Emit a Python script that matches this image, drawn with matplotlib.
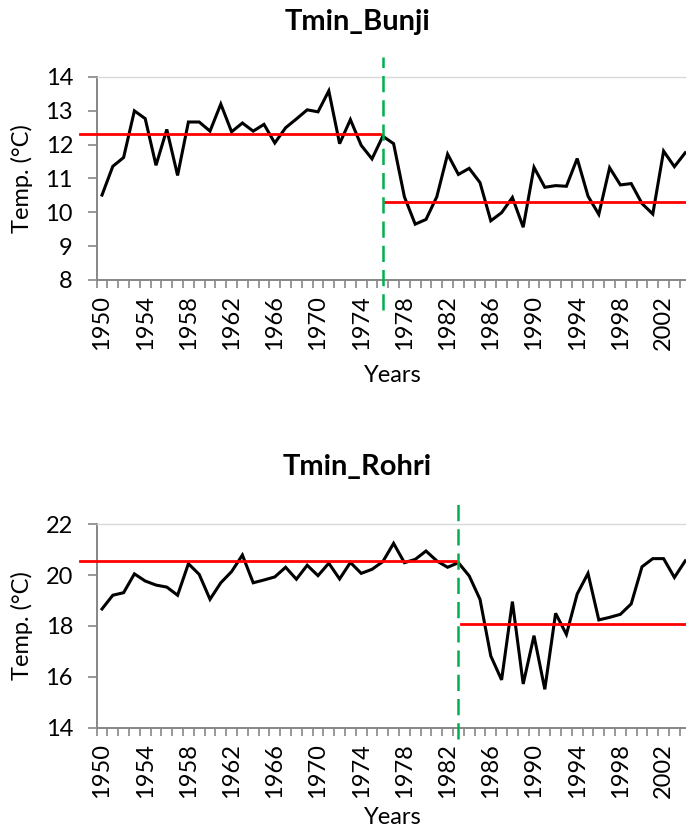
import matplotlib
matplotlib.use("Agg")
import matplotlib.pyplot as plt
import numpy as np

plt.rcParams['font.family'] = ['Lato', 'DejaVu Sans']

years = list(range(1950, 2005))

bunji = [10.51, 11.36, 11.62, 13.00, 12.77, 11.39, 12.45, 11.09, 12.67, 12.67,
         12.40, 13.20, 12.38, 12.64, 12.40, 12.60, 12.05, 12.50, 12.76, 13.03,
         12.97, 13.59, 12.03, 12.74, 11.98, 11.58, 12.25, 12.03, 10.46, 9.65,
         9.79, 10.46, 11.72, 11.12, 11.30, 10.88, 9.75, 9.99, 10.44, 9.56,
         11.33, 10.74, 10.79, 10.77, 11.59, 10.48, 9.94, 11.32, 10.81, 10.85,
         10.26, 9.95, 11.81, 11.35, 11.76]

rohri = [18.67, 19.21, 19.31, 20.05, 19.77, 19.61, 19.53, 19.21, 20.45, 20.03,
         19.05, 19.70, 20.14, 20.79, 19.70, 19.81, 19.93, 20.31, 19.84, 20.39,
         19.98, 20.47, 19.85, 20.50, 20.07, 20.23, 20.53, 21.25, 20.49, 20.62,
         20.95, 20.56, 20.31, 20.49, 19.97, 19.05, 16.82, 15.88, 18.96, 15.72,
         17.62, 15.51, 18.50, 17.67, 19.26, 20.07, 18.24, 18.34, 18.46, 18.87,
         20.33, 20.65, 20.65, 19.91, 20.56]

label_years = list(range(1950, 2004, 4))

bunji_break = 1976
bunji_means = [12.31, 10.31]
rohri_break = 1983
rohri_means = [20.56, 18.09]

W, H = 686, 831
fig = plt.figure(figsize=(W / 100, H / 100), dpi=100)

GRAY = '#868686'
FS = 17


def make_panel(bottom_px, top_px, data, ylim, yticks, brk, means, title,
               title_y, years_y, green_ext):
    ax = fig.add_axes([96.6 / W, 1 - bottom_px / H, 594 / W,
                       (bottom_px - top_px) / H])
    ax.set_xlim(1949.5, 2004.5)
    ax.set_ylim(*ylim)
    ax.plot(years, data, color='black', lw=2.2, zorder=3,
            solid_joinstyle='miter')
    # means before / after the break
    ax.plot([1948.0, brk - 0.25], [means[0]] * 2, color='#ff0000', lw=2.0,
            clip_on=False, zorder=4)
    ax.plot([brk + 0.2, 2004.5], [means[1]] * 2, color='#ff0000', lw=2.0,
            clip_on=False, zorder=4)
    # break line
    ax.plot([brk, brk], green_ext, color='#00b050', lw=1.8,
            linestyle=(0, (6.5, 3.2)), clip_on=False, zorder=5)

    ax.spines['right'].set_visible(False)
    ax.spines['top'].set_color('#d9d9d9')
    ax.spines['top'].set_linewidth(1.0)
    for s in ['left', 'bottom']:
        ax.spines[s].set_color(GRAY)
        ax.spines[s].set_linewidth(1.4)

    ax.set_yticks(yticks)
    ax.set_yticklabels([str(v) for v in yticks])
    ax.tick_params(axis='y', direction='out', length=6.5, width=1.2,
                   color=GRAY, pad=10.5, labelsize=FS)
    ax.set_xticks(np.arange(1949.5, 2005.0, 1.0))
    ax.set_xticklabels([])
    ax.tick_params(axis='x', which='major', direction='out', length=5.5,
                   width=1.2, color=GRAY)
    ax.set_xticks(label_years, minor=True)
    ax.set_xticklabels([str(y) for y in label_years], minor=True,
                       rotation=90, fontsize=FS)
    ax.tick_params(axis='x', which='minor', length=0, pad=11)

    fig.text(357.5 / W, 1 - title_y / H, title, ha='center', va='center',
             fontsize=21, fontweight='bold')
    mid = (bottom_px + top_px) / 2
    fig.text(22 / W, 1 - mid / H, 'Temp. (°C)', rotation=90, ha='center',
             va='center', fontsize=FS)
    fig.text(393 / W, 1 - years_y / H, 'Years', ha='center',
             va='center', fontsize=FS)
    return ax


make_panel(280, 77, bunji, (8, 14), [8, 9, 10, 11, 12, 13, 14],
           bunji_break, bunji_means, 'Tmin_Bunji', 22, 375, (7.1, 14.6))
make_panel(727.7, 524.3, rohri, (14, 22), [14, 16, 18, 20, 22],
           rohri_break, rohri_means, 'Tmin_Rohri', 467, 818, (13.55, 22.8))

fig.savefig('out.png', dpi=100)
